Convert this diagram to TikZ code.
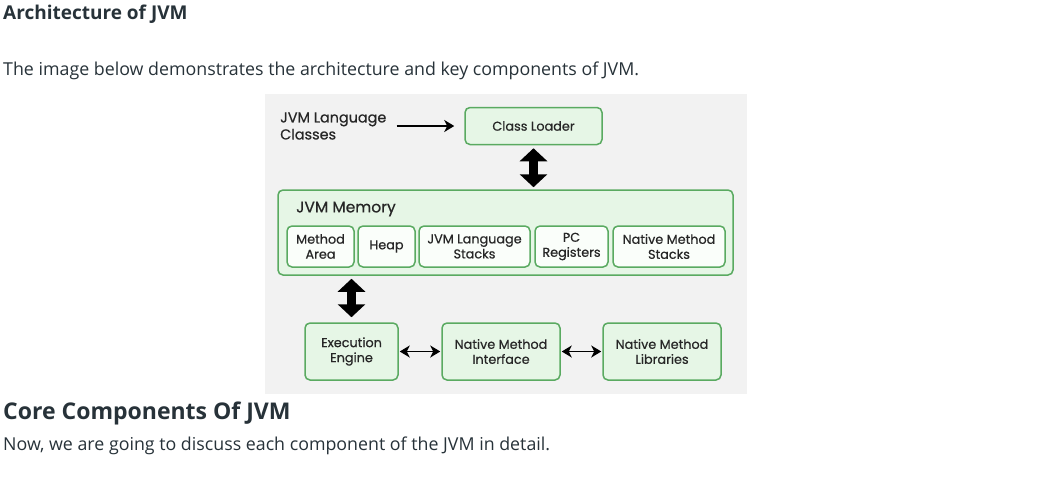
\documentclass[tikz,border=0pt]{standalone}
\usepackage{fontspec}
\setmainfont{Open Sans}
\newfontfamily\poppins[FakeBold=0.6]{Poppins}
\usetikzlibrary{arrows.meta,positioning}
\definecolor{pagetext}{HTML}{273239}
\definecolor{panelgray}{HTML}{F2F2F2}
\definecolor{jvmgreen}{HTML}{5AAA61}
\definecolor{jvmfill}{HTML}{E6F6E6}
\definecolor{slotfill}{HTML}{FAFEFA}
\tikzset{
    % outer green boxes
    blocks/.style={
           rectangle,
           rounded corners=5pt,
           draw=jvmgreen, line width=1.5pt,
           fill=jvmfill,
           inner sep=0pt,
           align=center,
           text=black!85,
           font=\poppins\fontsize{12.8}{15}\selectfont},
    % boxes inside JVM Memory
    slots/.style={
           blocks,
           fill=slotfill,
           minimum height=41pt},
    % Define arrow styles
    msgs/.style={
           {Stealth[length=10pt,width=12pt,inset=3pt]}-{Stealth[length=10pt,width=12pt,inset=3pt]},
           line width=1.7pt},
    onemsg/.style={
           -{Stealth[length=10pt,width=12pt,inset=3pt]},
           line width=1.7pt},
    bigmsgs/.style={
           {Triangle[length=13pt,width=27pt]}-{Triangle[length=13pt,width=27pt]},
           line width=9pt},
    pagetxt/.style={anchor=west, inner sep=0pt, text=pagetext}
}
\begin{document}
\begin{tikzpicture}[x=1pt, y=-1pt]
	\useasboundingbox[fill=white] (0,0) rectangle (1057,480);
	% page text
	\node[pagetxt, font=\fontsize{19}{22}\selectfont\bfseries] (title) at (3,14) {Architecture of JVM};
	\node[pagetxt, font=\fontsize{17.8}{21}\selectfont] (intro) at (3,71) {The image below demonstrates the architecture and key components of JVM.};
	\node[pagetxt, font=\fontsize{23}{27}\selectfont\bfseries] (core) at (3,413) {Core Components Of JVM};
	\node[pagetxt, font=\fontsize{17.8}{21}\selectfont] (now) at (3,446) {Now, we are going to discuss each component of the JVM in detail.};

	\fill[panelgray] (265,94) rectangle (747,394);

	\node[blocks, minimum width=137pt, minimum height=37pt] (cl) at (533.5,126) {Class Loader};
	\node[anchor=west, align=left, inner sep=0pt, font=\poppins\fontsize{14.4}{17}\selectfont, text=black!85] (classes) at (280,126) {JVM Language\\Classes};

	\node[blocks, minimum width=455pt, minimum height=85pt] (mem) at (505.5,232.5) {};
	\node[anchor=west, inner sep=0pt, font=\poppins\fontsize{15.5}{18}\selectfont, text=black!85] (memtitle) at (296,209) {JVM Memory};
	\node[slots, minimum width=67pt] (ma) at (320.5,246.5) {Method\\Area};
	\node[slots, minimum width=57pt, right=2.5pt of ma] (heap) {Heap};
	\node[slots, minimum width=111pt, right=2.5pt of heap] (jls) {JVM Language\\Stacks};
	\node[slots, minimum width=73pt, right=3.5pt of jls] (pcr) {PC\\Registers};
	\node[slots, minimum width=112pt, right=3.5pt of pcr] (nms) {Native Method\\Stacks};

	\node[blocks, minimum width=93pt, minimum height=57pt] (ee) at (351.5,351.5) {Execution\\Engine};
	\node[blocks, minimum width=118pt, minimum height=57pt, right=42.5pt of ee] (nmi) {Native Method\\Interface};
	\node[blocks, minimum width=118pt, minimum height=57pt, right=41.5pt of nmi] (nml) {Native Method\\Libraries};

	\draw[onemsg, shorten <=10pt, shorten >=10pt] (classes.east) -- (cl.west);
	\draw[bigmsgs, shorten <=3pt, shorten >=2pt] (cl.south) -- (cl.south |- mem.north);
	\draw[bigmsgs, shorten <=3pt, shorten >=5pt] (ee.north |- mem.south) -- (ee.north);
	\draw[msgs, shorten <=1pt, shorten >=1pt] (ee.east) -- (nmi.west);
	\draw[msgs, shorten <=1pt, shorten >=1pt] (nmi.east) -- (nml.west);
\end{tikzpicture}
\end{document}
